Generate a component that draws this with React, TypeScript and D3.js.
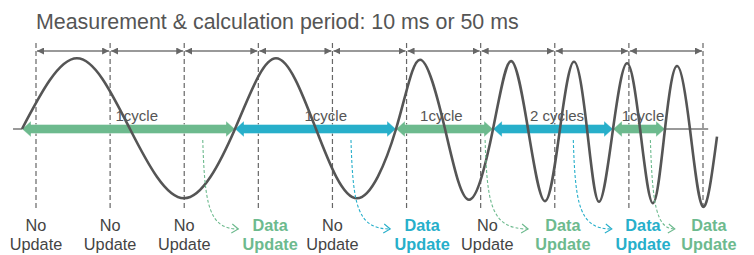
import * as d3 from 'd3';

// time axis in ms: one dashed line every measurement period (10 ms)
const periodTicks = [0, 10, 20, 30, 40, 50, 60, 70, 80, 90];

// wave key points: zero crossings and extrema (time ms, relative amplitude)
const waveTime = [
  -1.89, 5.53, 12.68, 19.97, 26.85, 32.38, 37.78, 43.31, 48.58, 51.82, 55.19, 58.43,
  61.67, 64.09, 66.39, 68.68, 70.7, 72.59, 74.35, 75.97, 77.86, 79.75, 81.51, 83.25,
  84.87, 86.49, 88.24, 90.0, 91.89,
];
const waveValue = [
  0, 1.01, 0, -0.99, 0, 1.01, 0, -0.99, 0, 0.99, 0, -1.01,
  0, 0.97, 0, -1.03, 0, 0.96, 0, -1.04, 0, 0.94, 0, -1.06,
  0, 0.9, 0, -1.11, -0.11,
];

// cycle arrows
const cycleBounds = [-1.89, 26.85, 48.58, 61.67, 77.86, 84.87];
const cycleLabels = ['1cycle', '1cycle', '1cycle', '2 cycles', '1cycle'];
const cycleLabelAt = [13.6, 39.1, 54.7, 70.3, 81.9];
const axisStart = -3.1;
const axisEnd = 90.7;

// update state below each period line
const noUpdateAt = [0, 10, 20, 40, 60.9];
const dataUpdateAt = [31.6, 52.1, 71.1, 81.9, 90.8];
const updateArrowFrom = [22.5, 42.5, 60.6, 72.5, 82.9];
const updateArrowTo = [27.3, 47.8, 66.4, 77.7, 86.2];

const W = 754;
const H = 255;
const green = '#6dba8e';
const teal = '#27afca';
const grey = '#555';
const font = '"Liberation Sans", Arial, Helvetica, sans-serif';

export default function App() {
  const x = d3.scaleLinear().domain([0, 90]).range([36, 703]);
  const y = d3.scaleLinear().domain([-1, 1]).range([199, 59]);
  const cy = y(0);

  const wave = d3.line<number>()
    .x((_, i) => x(waveTime[i]))
    .y(d => y(d))
    .curve(d3.curveNatural)(waveValue);

  const thickArrow = (x0: number, x1: number) => {
    const hl = 9, hh = 8, bh = 4.5;
    return [
      [x0, cy], [x0 + hl, cy - hh], [x0 + hl, cy - bh], [x1 - hl, cy - bh], [x1 - hl, cy - hh],
      [x1, cy], [x1 - hl, cy + hh], [x1 - hl, cy + bh], [x0 + hl, cy + bh], [x0 + hl, cy + hh],
    ].map(p => p.join(',')).join(' ');
  };

  const colorOf = (i: number) => (i % 2 === 0 ? green : teal);

  return (
    <svg width={W} height={H} style={{ position: 'absolute', left: 0, top: 0, background: '#fff' }}>
      <defs>
        <marker id="tri" viewBox="0 0 10 10" refX="10" refY="5" markerWidth="7" markerHeight="7"
          markerUnits="userSpaceOnUse" orient="auto-start-reverse">
          <path d="M0,0 L10,5 L0,10 z" fill="#666" />
        </marker>
      </defs>

      <text x={36} y={29} fontFamily={font} fontSize={21.4} fill={grey}>
        Measurement &amp; calculation period: 10 ms or 50 ms
      </text>

      {/* period lines */}
      {periodTicks.map(t => (
        <line key={'d' + t} x1={x(t)} x2={x(t)} y1={43} y2={211}
          stroke="#666" strokeWidth={1.2} strokeDasharray="5,3" />
      ))}
      {periodTicks.slice(1).map((t, i) => (
        <line key={'p' + t} x1={x(periodTicks[i]) + 1} x2={x(t) - 1} y1={51} y2={51}
          stroke="#777" strokeWidth={1.3} markerStart="url(#tri)" markerEnd="url(#tri)" />
      ))}

      {/* base line */}
      <line x1={x(axisStart)} x2={x(cycleBounds[0])} y1={cy} y2={cy} stroke="#777" strokeWidth={1.5} />
      <line x1={x(cycleBounds[cycleBounds.length - 1])} x2={x(axisEnd)} y1={cy} y2={cy} stroke="#777" strokeWidth={1.5} />

      {/* cycle arrows */}
      {cycleLabels.map((lab, i) => (
        <g key={'c' + i}>
          <polygon points={thickArrow(x(cycleBounds[i]), x(cycleBounds[i + 1]))}
            fill={colorOf(i)} stroke="#ffffff" strokeOpacity={0.5} strokeWidth={0.8} />
          <text x={x(cycleLabelAt[i])} y={121} textAnchor="middle" fontFamily={font}
            fontSize={15} fill={grey}>{lab}</text>
        </g>
      ))}

      {/* signal */}
      <path d={wave ?? ''} fill="none" stroke="#555" strokeWidth={2.6} />

      {/* update arrows */}
      {updateArrowFrom.map((t, i) => {
        const x0 = x(t), x1 = x(updateArrowTo[i]);
        const y0 = 140, y1 = 229;
        return (
          <g key={'u' + i} stroke={colorOf(i)} fill="none" strokeWidth={1.1}>
            <path d={`M${x0},${y0} C${x0 + 2},${y0 + 65} ${x0 + 6},${y1} ${x1},${y1}`} strokeDasharray="3,2" />
            <path d={`M${x1 - 6},${y1 - 5} L${x1},${y1} L${x1 - 7},${y1 + 4}`} />
          </g>
        );
      })}

      {/* labels */}
      {noUpdateAt.map((t, i) => (
        <text key={'n' + i} x={x(t)} textAnchor="middle" fontFamily={font} fontSize={16.3} fill="#444">
          <tspan x={x(t)} y={231}>No</tspan>
          <tspan x={x(t)} y={250}>Update</tspan>
        </text>
      ))}
      {dataUpdateAt.map((t, i) => (
        <text key={'a' + i} textAnchor="middle" fontFamily={font} fontSize={16.3} fontWeight="bold" fill={colorOf(i)}>
          <tspan x={x(t)} y={231}>Data</tspan>
          <tspan x={x(t)} y={250}>Update</tspan>
        </text>
      ))}
    </svg>
  );
}
